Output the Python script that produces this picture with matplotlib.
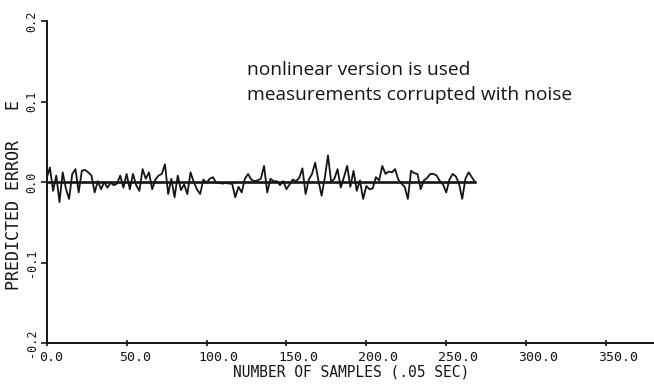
import numpy as np
import matplotlib.pyplot as plt
from matplotlib.transforms import ScaledTranslation

# predicted error, one value every 2 samples
error = [
    0.005, 0.018, -0.011, 0.008, -0.025, 0.012, -0.008, -0.021, 0.010, 0.016,
    -0.013, 0.014, 0.015, 0.012, 0.008, -0.013, 0.001, -0.009, 0.000, -0.007,
    -0.001, -0.004, -0.002, 0.008, -0.007, 0.010, -0.009, 0.010, -0.004, -0.011,
    0.016, 0.004, 0.012, -0.009, 0.003, 0.008, 0.010, 0.022, -0.015, 0.004,
    -0.019, 0.008, -0.010, -0.003, -0.015, 0.012, 0.000, -0.009, -0.015, 0.003,
    -0.001, 0.004, 0.006, -0.001, -0.001, -0.002, -0.001, -0.002, -0.002, -0.019,
    -0.006, -0.013, 0.004, 0.010, 0.003, 0.001, 0.002, 0.004, 0.020, -0.013,
    0.004, 0.001, 0.001, -0.004, 0.001, -0.009, -0.003, 0.003, 0.001, 0.005,
    0.017, -0.015, 0.003, 0.010, 0.024, 0.002, -0.017, 0.005, 0.033, 0.000,
    0.004, 0.016, -0.007, 0.006, 0.020, -0.006, 0.014, -0.011, 0.002, -0.021,
    -0.005, -0.009, -0.008, 0.006, 0.002, 0.020, 0.010, 0.013, 0.012, 0.016,
    0.003, -0.002, -0.006, -0.021, 0.014, 0.011, 0.010, -0.009, 0.002, 0.005,
    0.010, 0.010, 0.008, 0.001, -0.003, -0.013, 0.003, 0.010, 0.007, -0.002,
    -0.021, 0.004, 0.012, 0.006, 0.000,
]
samples = np.arange(len(error)) * 2

xticks = [0, 50, 100, 150, 200, 250, 300, 350]
yticks = [-0.2, -0.1, 0.0, 0.1, 0.2]

fig = plt.figure(figsize=(6.54, 3.85), dpi=100)
ax = fig.add_axes([46.7 / 654, 42 / 385, 1 - 46.7 / 654, 322 / 385])

ink = '#151515'
ax.plot(samples, error, color=ink, lw=1.3)
ax.plot([samples[0], samples[-1]], [0, 0], color=ink, lw=1.9)

ax.set_xlim(0, 380)
ax.set_ylim(-0.2, 0.2)

for s in ['top', 'right']:
    ax.spines[s].set_visible(False)
for s in ['left', 'bottom']:
    ax.spines[s].set_linewidth(1.4)
    ax.spines[s].set_color(ink)

mono = 'DejaVu Sans Mono'
ax.set_xticks(xticks)
ax.set_xticklabels([f'{v:.1f}' for v in xticks], family=mono, fontsize=9.5,
                   ha='left', color=ink)
ax.set_yticks(yticks)
ax.set_yticklabels([f'{v:.1f}'.replace('\u2212', '-') for v in yticks],
                   family=mono, fontsize=8.5, rotation=90, va='center', color=ink)
ax.tick_params(axis='x', direction='inout', length=5, width=1.2, pad=3, colors=ink)
ax.tick_params(axis='y', direction='out', length=4, width=1.2, pad=2, colors=ink)

# plotter labels sit a little left of their ticks
shift = ScaledTranslation(-8 / 100, 0, fig.dpi_scale_trans)
for lab in ax.get_xticklabels():
    lab.set_transform(lab.get_transform() + shift)

fig.text(14 / 654, 1 - 195 / 385, 'PREDICTED ERROR   E', family=mono,
         fontsize=12, rotation=90, ha='center', va='center', color=ink)
fig.text(351 / 654, 1 - 372 / 385, 'NUMBER OF SAMPLES (.05 SEC)', family=mono,
         fontsize=10.5, ha='center', va='center', color=ink)

fig.text(247 / 654, 1 - 70 / 385, 'nonlinear version is used', family='Open Sans',
         fontsize=13.8, ha='left', va='center', color=ink)
fig.text(247 / 654, 1 - 95 / 385, 'measurements corrupted with noise',
         family='Open Sans', fontsize=13.8, ha='left', va='center', color=ink)

fig.savefig('out.png', dpi=100)
